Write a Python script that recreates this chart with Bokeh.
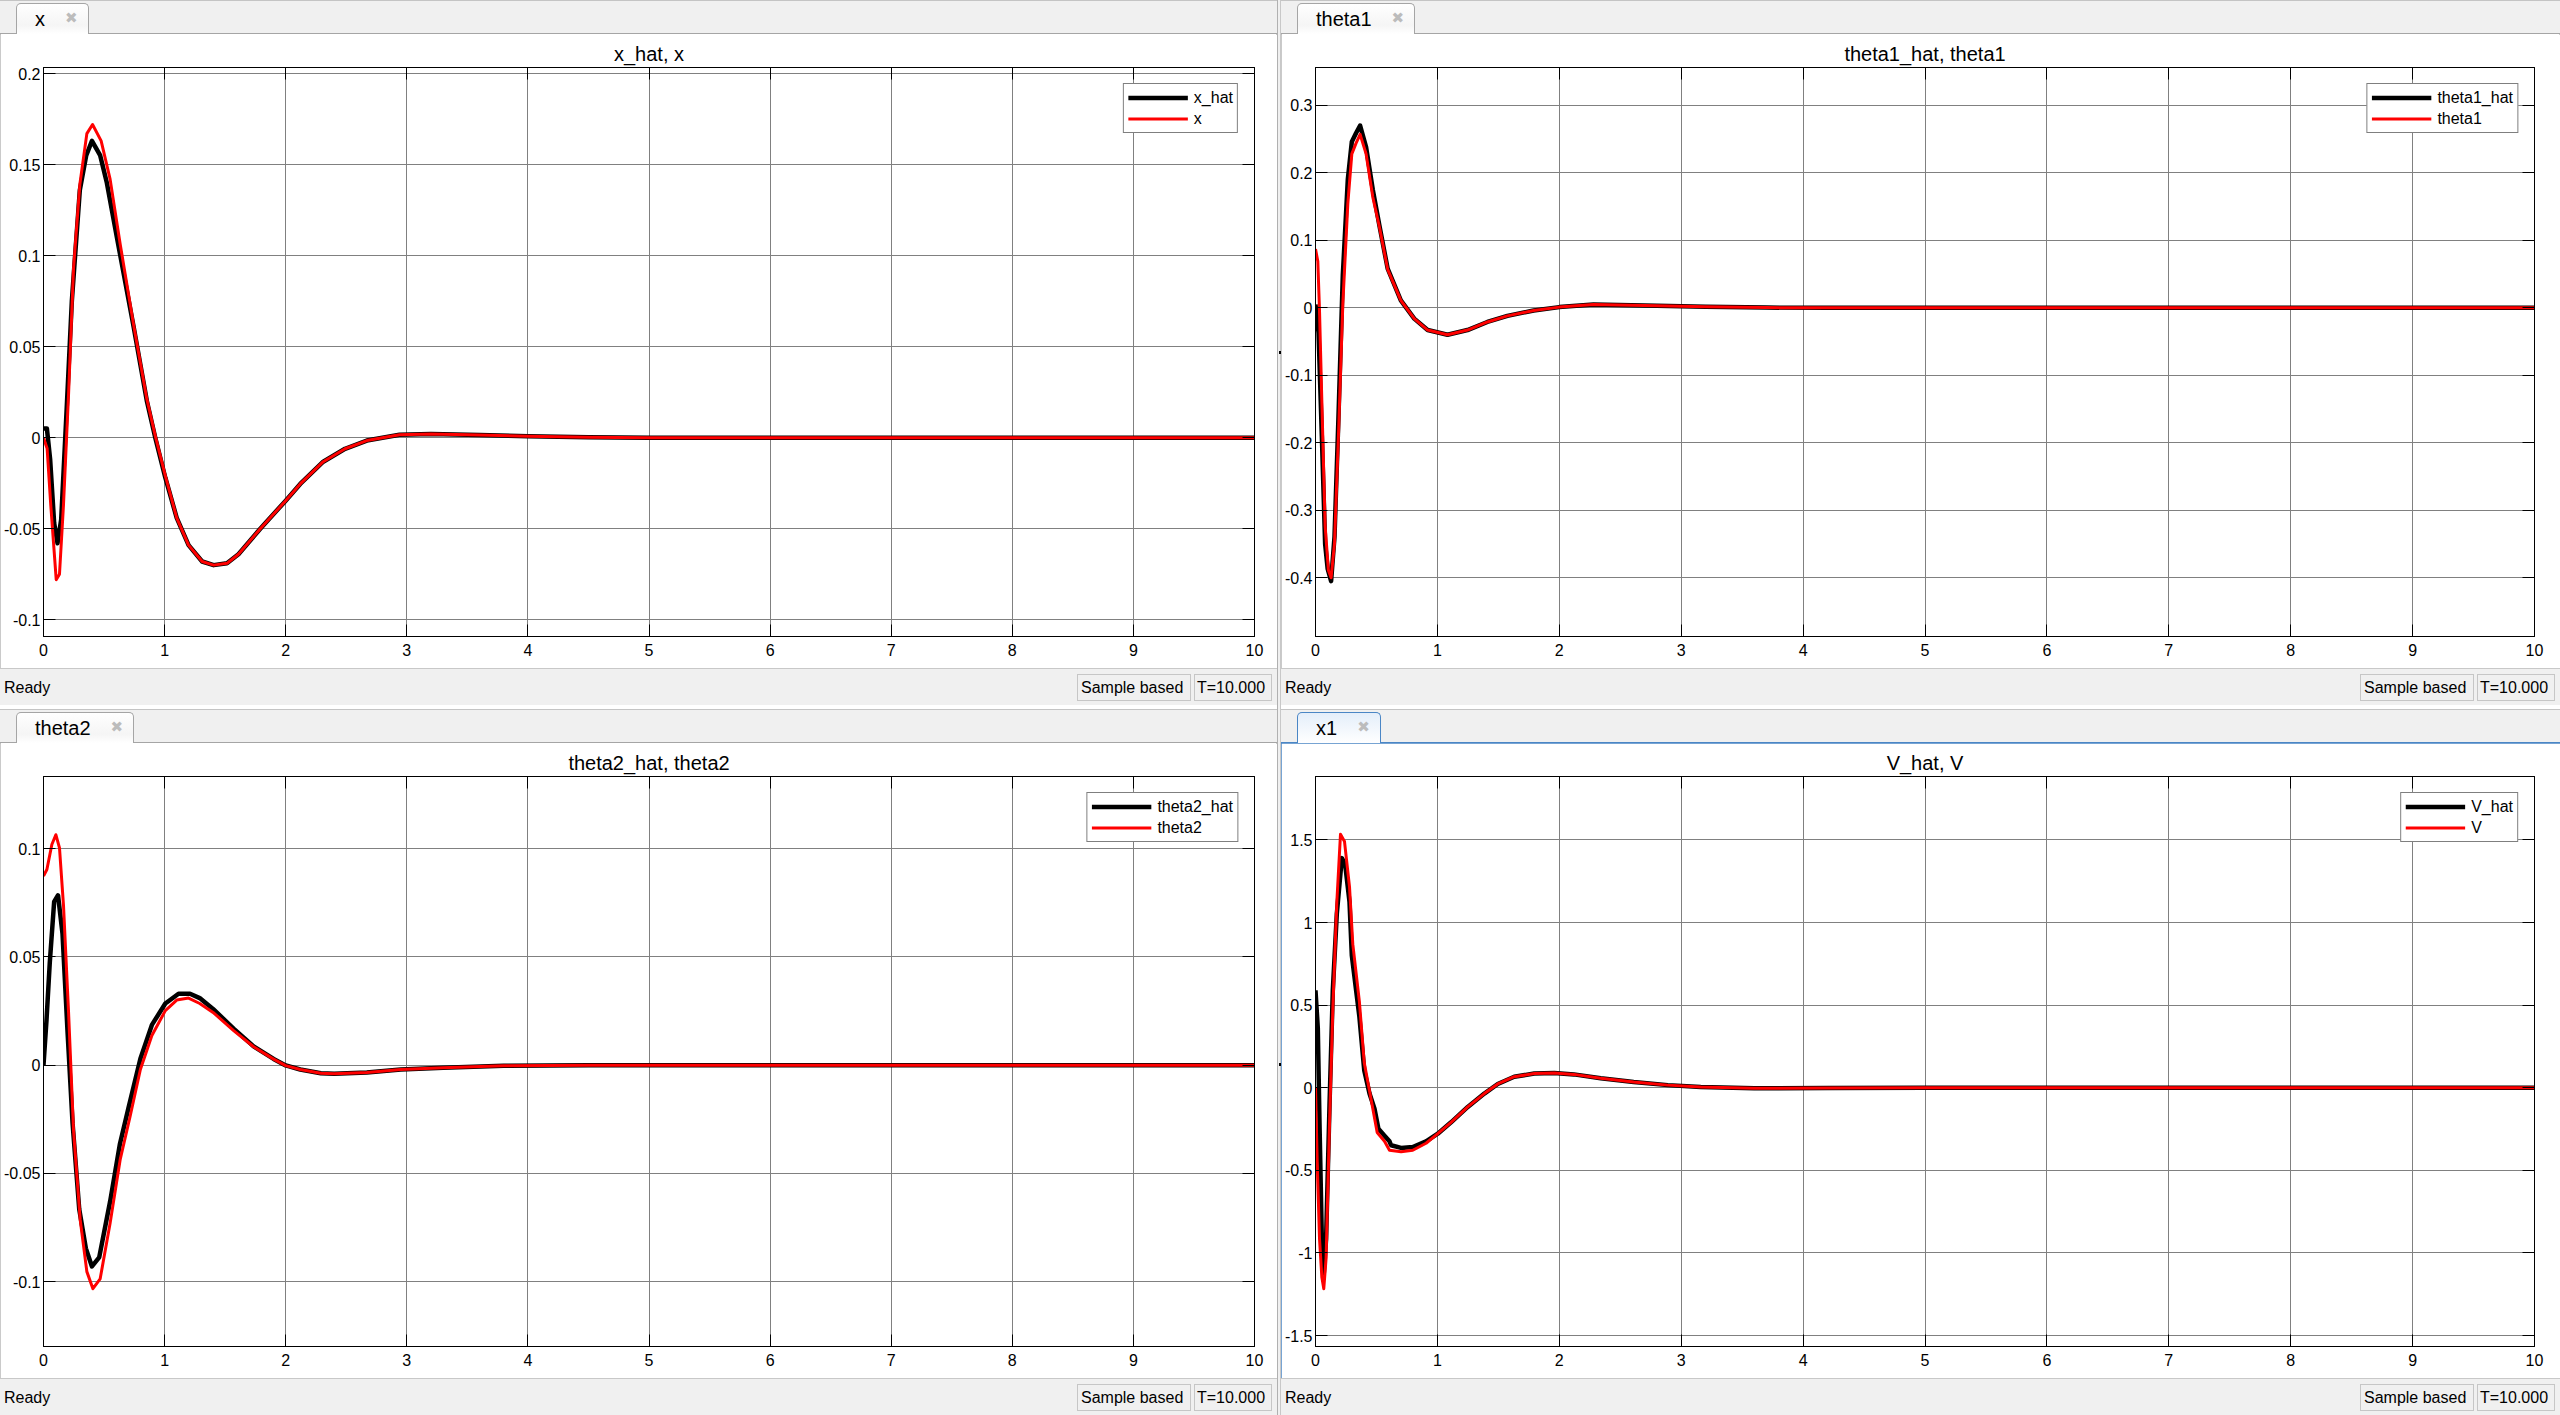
from bokeh.plotting import figure
from bokeh.models import (Range1d, FixedTicker, LinearAxis, CustomJSTickFormatter,
                          Legend, LegendItem, Div)
from bokeh.layouts import row, column
from bokeh.embed import file_html
from bokeh.resources import INLINE

FONT = "Liberation Sans"

# ---------------- data ----------------
X_TICKS = [0, 1, 2, 3, 4, 5, 6, 7, 8, 9, 10]

# Panel "x": x_hat, x
t_x_hat = [0, 0.028, 0.055, 0.088, 0.116, 0.146, 0.19, 0.234, 0.30, 0.353, 0.40, 0.468, 0.523,
           0.606, 0.744, 0.854, 0.923, 1.006, 1.10, 1.198, 1.31, 1.405, 1.515, 1.61, 1.79, 2.0,
           2.12, 2.31, 2.49, 2.67, 2.94, 3.2, 3.6, 4.0, 4.5, 5.0, 6.0, 7.0, 8.0, 9.0, 10.0]
x_hat = [0.005, 0.005, -0.012, -0.047, -0.058, -0.045, 0.014, 0.075, 0.136, 0.155, 0.163, 0.155,
         0.140, 0.110, 0.061, 0.020, 0.0, -0.022, -0.044, -0.059, -0.068, -0.070, -0.069, -0.064,
         -0.050, -0.0346, -0.0254, -0.0132, -0.0061, -0.0016, 0.0016, 0.002, 0.0015, 0.0008,
         0.0002, 0.0, 0.0, 0.0, 0.0, 0.0, 0.0]
t_x = [0, 0.03, 0.06, 0.105, 0.132, 0.165, 0.207, 0.248, 0.30, 0.358, 0.405, 0.476, 0.55, 0.634,
       0.744, 0.854, 0.923, 1.006, 1.10, 1.198, 1.31, 1.405, 1.515, 1.61, 1.79, 2.0, 2.12, 2.31,
       2.49, 2.67, 2.94, 3.2, 3.6, 4.0, 4.5, 5.0, 6.0, 7.0, 8.0, 9.0, 10.0]
x_val = [0.0, -0.006, -0.037, -0.078, -0.075, -0.037, 0.024, 0.093, 0.139, 0.167, 0.172, 0.163,
         0.142, 0.106, 0.062, 0.021, 0.001, -0.021, -0.044, -0.059, -0.068, -0.070, -0.069,
         -0.064, -0.050, -0.0346, -0.0254, -0.0132, -0.0061, -0.0016, 0.0016, 0.002, 0.0015,
         0.0008, 0.0002, 0.0, 0.0, 0.0, 0.0, 0.0, 0.0]

# Panel "theta1": theta1_hat, theta1
t_th1_hat = [0, 0.025, 0.052, 0.079, 0.10, 0.128, 0.156, 0.188, 0.224, 0.265, 0.298, 0.333, 0.366,
             0.415, 0.47, 0.524, 0.592, 0.70, 0.81, 0.92, 1.083, 1.247, 1.41, 1.574, 1.79, 2.0,
             2.28, 2.8, 3.2, 3.7, 4.2, 5.0, 6.0, 7.0, 8.0, 9.0, 10.0]
th1_hat = [0.005, -0.037, -0.19, -0.35, -0.387, -0.405, -0.339, -0.164, 0.048, 0.19, 0.246, 0.259,
           0.27, 0.238, 0.175, 0.122, 0.058, 0.011, -0.016, -0.033, -0.040, -0.033, -0.021,
           -0.012, -0.004, 0.001, 0.005, 0.003, 0.0015, 0.0003, 0.0, 0.0, 0.0, 0.0, 0.0, 0.0, 0.0]
t_th1 = [0, 0.019, 0.033, 0.052, 0.079, 0.106, 0.128, 0.156, 0.188, 0.224, 0.265, 0.298, 0.333,
         0.366, 0.415, 0.47, 0.524, 0.592, 0.70, 0.81, 0.92, 1.083, 1.247, 1.41, 1.574, 1.79, 2.0,
         2.28, 2.8, 3.2, 3.7, 4.2, 5.0, 6.0, 7.0, 8.0, 9.0, 10.0]
th1 = [0.087, 0.069, -0.005, -0.138, -0.323, -0.389, -0.40, -0.349, -0.191, 0.005, 0.154, 0.228,
       0.244, 0.257, 0.228, 0.164, 0.12, 0.057, 0.011, -0.016, -0.033, -0.040, -0.033, -0.021,
       -0.012, -0.004, 0.001, 0.005, 0.003, 0.0015, 0.0003, 0.0, 0.0, 0.0, 0.0, 0.0, 0.0, 0.0]

# Panel "theta2": theta2_hat, theta2
t_th2_hat = [0, 0.025, 0.052, 0.088, 0.12, 0.157, 0.198, 0.24, 0.295, 0.35, 0.40, 0.46, 0.55, 0.63,
             0.70, 0.80, 0.895, 1.006, 1.115, 1.21, 1.29, 1.40, 1.57, 1.735, 1.9, 2.0, 2.12, 2.29,
             2.40, 2.67, 2.95, 3.3, 3.8, 4.5, 5.0, 6.0, 7.0, 8.0, 9.0, 10.0]
th2_hat = [0.0, 0.021, 0.0475, 0.0756, 0.0785, 0.0607, 0.016, -0.0268, -0.0665, -0.0847, -0.093,
           -0.0888, -0.063, -0.0367, -0.0202, 0.003, 0.0186, 0.0285, 0.033, 0.033, 0.031, 0.026,
           0.0169, 0.0087, 0.0029, -0.0001, -0.002, -0.0037, -0.004, -0.0034, -0.002, -0.0012,
           -0.0003, 0.0, 0.0, 0.0, 0.0, 0.0, 0.0, 0.0]
t_th2 = [0, 0.028, 0.069, 0.102, 0.132, 0.165, 0.207, 0.248, 0.303, 0.358, 0.408, 0.468, 0.55,
         0.634, 0.716, 0.80, 0.895, 1.006, 1.10, 1.198, 1.29, 1.40, 1.57, 1.735, 1.9, 2.0, 2.12,
         2.29, 2.40, 2.67, 2.95, 3.3, 3.8, 4.5, 5.0, 6.0, 7.0, 8.0, 9.0, 10.0]
th2 = [0.0874, 0.0904, 0.102, 0.1065, 0.1004, 0.074, 0.0244, -0.0301, -0.0714, -0.0954, -0.1033,
       -0.0987, -0.073, -0.0434, -0.0235, -0.002, 0.0137, 0.0252, 0.0301, 0.031, 0.0285, 0.0244,
       0.016, 0.0085, 0.0028, -0.0002, -0.002, -0.0037, -0.004, -0.0034, -0.002, -0.0012,
       -0.0003, 0.0, 0.0, 0.0, 0.0, 0.0, 0.0, 0.0]

# Panel "x1": V_hat, V
t_v_hat = [0, 0.019, 0.033, 0.052, 0.068, 0.087, 0.115, 0.142, 0.175, 0.216, 0.243, 0.279, 0.298,
           0.333, 0.36, 0.40, 0.443, 0.484, 0.516, 0.566, 0.607, 0.62, 0.702, 0.798, 0.907, 1.003,
           1.112, 1.249, 1.385, 1.495, 1.63, 1.795, 1.959, 2.12, 2.34, 2.61, 2.89, 3.16, 3.6,
           4.2, 5.0, 6.0, 7.0, 8.0, 9.0, 10.0]
v_hat = [0.59, 0.36, -0.22, -0.915, -1.124, -0.915, -0.104, 0.59, 1.054, 1.39, 1.355, 1.124, 0.80,
         0.59, 0.43, 0.104, -0.035, -0.127, -0.248, -0.29, -0.324, -0.348, -0.364, -0.359, -0.324,
         -0.278, -0.209, -0.116, -0.035, 0.023, 0.067, 0.086, 0.09, 0.081, 0.058, 0.035, 0.016,
         0.005, -0.003, -0.002, 0.0, 0.0, 0.0, 0.0, 0.0, 0.0]
t_v = [0, 0.014, 0.033, 0.052, 0.068, 0.087, 0.115, 0.142, 0.175, 0.205, 0.238, 0.279, 0.306,
       0.36, 0.40, 0.456, 0.506, 0.566, 0.607, 0.702, 0.798, 0.907, 1.003, 1.112, 1.249, 1.385,
       1.495, 1.63, 1.795, 1.959, 2.12, 2.34, 2.61, 2.89, 3.16, 3.6, 4.2, 5.0, 6.0, 7.0, 8.0,
       9.0, 10.0]
v_val = [0.0, -0.45, -0.915, -1.147, -1.216, -1.031, -0.22, 0.475, 1.124, 1.534, 1.49, 1.216, 0.869,
         0.521, 0.151, -0.07, -0.271, -0.324, -0.378, -0.387, -0.378, -0.336, -0.278, -0.209,
         -0.116, -0.035, 0.023, 0.067, 0.086, 0.09, 0.081, 0.058, 0.035, 0.016, 0.005, -0.003,
         -0.002, 0.0, 0.0, 0.0, 0.0, 0.0, 0.0]

# axis limits and tick values of each scope
Y_TL = (-0.1092, 0.2033); TICKS_TL = [-0.1, -0.05, 0, 0.05, 0.1, 0.15, 0.2]
Y_TR = (-0.487, 0.356);   TICKS_TR = [-0.4, -0.3, -0.2, -0.1, 0, 0.1, 0.2, 0.3]
Y_BL = (-0.130, 0.1334);  TICKS_BL = [-0.1, -0.05, 0, 0.05, 0.1]
Y_BR = (-1.566, 1.884);   TICKS_BR = [-1.5, -1, -0.5, 0, 0.5, 1, 1.5]

# ---------------- layout sizes (page px) ----------------
LEFT_W, RIGHT_W, VGAP = 1277, 1279, 4
TOP_H, BOT_H, HGAP = 705, 706, 4
TAB_H, STATUS_H = 34, 37


def make_fig(title, names, t_hat, v_hat_, t_true, v_true, yr, yticks, w, h, bl, br):
    p = figure(width=w, height=h, output_backend="svg", toolbar_location=None,
               x_range=Range1d(0, 10), y_range=Range1d(*yr),
               min_border_left=bl, min_border_right=br, min_border_top=33, min_border_bottom=32,
               title=title, background_fill_color="white", border_fill_color="white")
    p.title.align = "center"
    p.title.text_font = FONT
    p.title.text_font_size = "20px"
    p.title.text_font_style = "normal"
    p.title.text_color = "black"
    p.title.standoff = 5

    xt = FixedTicker(ticks=X_TICKS)
    yt = FixedTicker(ticks=yticks)
    fmt = CustomJSTickFormatter(code="return String(Math.round(tick*1000)/1000);")
    blank = CustomJSTickFormatter(code="return '';")

    p.xaxis.ticker = xt
    p.yaxis.ticker = yt
    p.yaxis.formatter = fmt
    p.xgrid.ticker = xt
    p.ygrid.ticker = yt
    p.grid.grid_line_color = "#808080"
    p.grid.grid_line_width = 1

    top_ax = LinearAxis(ticker=xt, formatter=blank)
    right_ax = LinearAxis(ticker=yt, formatter=blank)
    p.add_layout(top_ax, "above")
    p.add_layout(right_ax, "right")

    for ax in p.axis:
        ax.major_tick_in = 12
        ax.major_tick_out = 0
        ax.minor_tick_line_color = None
        ax.major_tick_line_color = "black"
        ax.axis_line_color = "black"
        ax.major_label_text_font = FONT
        ax.major_label_text_font_size = "16px"
        ax.major_label_text_color = "black"
    for ax in (top_ax, right_ax):
        ax.major_label_text_font_size = "0px"
        ax.major_label_standoff = 0
    p.below[0].major_label_standoff = 7
    p.left[0].major_label_standoff = 3

    p.outline_line_color = "black"
    p.outline_line_width = 1
    p.outline_line_alpha = 1

    r1 = p.line(t_hat, v_hat_, line_color="black", line_width=4.5, line_join="round")
    r2 = p.line(t_true, v_true, line_color="red", line_width=3, line_join="round")
    legend = Legend(items=[LegendItem(label=names[0], renderers=[r1]),
                           LegendItem(label=names[1], renderers=[r2])],
                    location="top_right", border_line_color="black", border_line_width=1,
                    background_fill_color="white", background_fill_alpha=1,
                    margin=16, padding=4, spacing=2, glyph_width=60, glyph_height=19,
                    label_height=19, label_standoff=6, label_text_font=FONT,
                    label_text_font_size="16px", label_text_color="black")
    p.add_layout(legend)
    return p


def tab_div(w, label, active):
    line = "#4a86c5" if active else "#a5a5a5"
    bg = ("linear-gradient(to bottom,#e4eefa,#ffffff)" if active
          else "linear-gradient(to bottom,#ffffff,#f5f5f5 70%,#ffffff)")
    html = (
        f'<div style="position:relative;width:{w}px;height:{TAB_H}px;background:#f0f0f0;'
        f'box-sizing:border-box;border-top:1px solid #c4c4c4;border-bottom:1px solid {line};'
        f'font-family:\'{FONT}\';">'
        f'<div style="position:absolute;left:16px;top:2px;height:31px;box-sizing:border-box;'
        f'border:1px solid {line};border-bottom:none;border-radius:5px 5px 0 0;background:{bg};'
        f'padding:0 10px 0 18px;display:flex;align-items:center;font-size:20px;color:#000;">'
        f'<span>{label}</span>'
        f'<span style="margin-left:20px;color:#bcbcbc;font-family:\'DejaVu Sans\';'
        f'font-size:15px;">&#10006;</span>'
        f'</div></div>'
    )
    return Div(text=html, width=w, height=TAB_H, margin=0)


def status_div(w):
    html = (
        f'<div style="position:relative;width:{w}px;height:{STATUS_H}px;background:#f0f0f0;'
        f'box-sizing:border-box;border-top:1px solid #c8c8c8;font-family:\'{FONT}\';'
        f'font-size:16px;color:#000;">'
        f'<span style="position:absolute;left:4px;top:10px;line-height:18px;">Ready</span>'
        f'<div style="position:absolute;left:{w - 86 - 114}px;top:5px;width:114px;height:27px;'
        f'box-sizing:border-box;border:1px solid #c6c6c6;padding-left:3px;line-height:25px;">'
        f'Sample based</div>'
        f'<div style="position:absolute;left:{w - 5 - 78}px;top:5px;width:78px;height:27px;'
        f'box-sizing:border-box;border:1px solid #c6c6c6;padding-left:2px;line-height:25px;">'
        f'T=10.000</div>'
        f'</div>'
    )
    return Div(text=html, width=w, height=STATUS_H, margin=0)


def hgap_div(w, dot_x):
    html = (
        f'<div style="position:relative;width:{w}px;height:{HGAP}px;background:#ececec;'
        f'box-sizing:border-box;border-top:1px solid #b8b8b8;">'
        f'<div style="position:absolute;left:{dot_x}px;top:0px;width:3px;height:2px;'
        f'background:#000;"></div></div>'
    )
    return Div(text=html, width=w, height=HGAP, margin=0)


def vgap_div(h, dots):
    inner = "".join(
        f'<div style="position:absolute;left:1px;top:{d}px;width:2px;height:3px;background:#000;"></div>'
        for d in dots)
    html = (
        f'<div style="position:relative;width:{VGAP}px;height:{h}px;background:#f0f0f0;'
        f'box-sizing:border-box;border-left:1px solid #b0b0b0;border-right:1px solid #c8c8c8;">'
        f'{inner}</div>'
    )
    return Div(text=html, width=VGAP, height=h, margin=0)


def panel(tab, title, names, t_hat, v_hat_, t_true, v_true, yr, yticks, w, h, bl, br, active=False):
    fig_h = h - TAB_H - STATUS_H
    fig = make_fig(title, names, t_hat, v_hat_, t_true, v_true, yr, yticks, w, fig_h, bl, br)
    if active:
        body = column(fig, status_div(w), spacing=0,
                      styles={"outline": "1px solid #4a86c5", "outline-offset": "-1px"})
        return column(tab_div(w, tab, True), body, spacing=0)
    return column(tab_div(w, tab, False), fig, status_div(w), spacing=0,
                  styles={"outline": "1px solid #b8b8b8", "outline-offset": "-1px"})


p_tl = panel("x", "x_hat, x", ["x_hat", "x"], t_x_hat, x_hat, t_x, x_val,
             Y_TL, TICKS_TL, LEFT_W, TOP_H, 43, 23)
p_bl = panel("theta2", "theta2_hat, theta2", ["theta2_hat", "theta2"], t_th2_hat, th2_hat,
             t_th2, th2, Y_BL, TICKS_BL, LEFT_W, BOT_H, 43, 23)
p_tr = panel("theta1", "theta1_hat, theta1", ["theta1_hat", "theta1"], t_th1_hat, th1_hat,
             t_th1, th1, Y_TR, TICKS_TR, RIGHT_W, TOP_H, 33, 26)
p_br = panel("x1", "V_hat, V", ["V_hat", "V"], t_v_hat, v_hat, t_v, v_val,
             Y_BR, TICKS_BR, RIGHT_W, BOT_H, 33, 26, active=True)

left_col = column(p_tl, hgap_div(LEFT_W, 638), p_bl, spacing=0)
right_col = column(p_tr, hgap_div(RIGHT_W, 637), p_br, spacing=0)
page = row(left_col, vgap_div(TOP_H + HGAP + BOT_H, [351, 1063]), right_col, spacing=0)

open("out.html", "w").write(file_html(page, INLINE))
